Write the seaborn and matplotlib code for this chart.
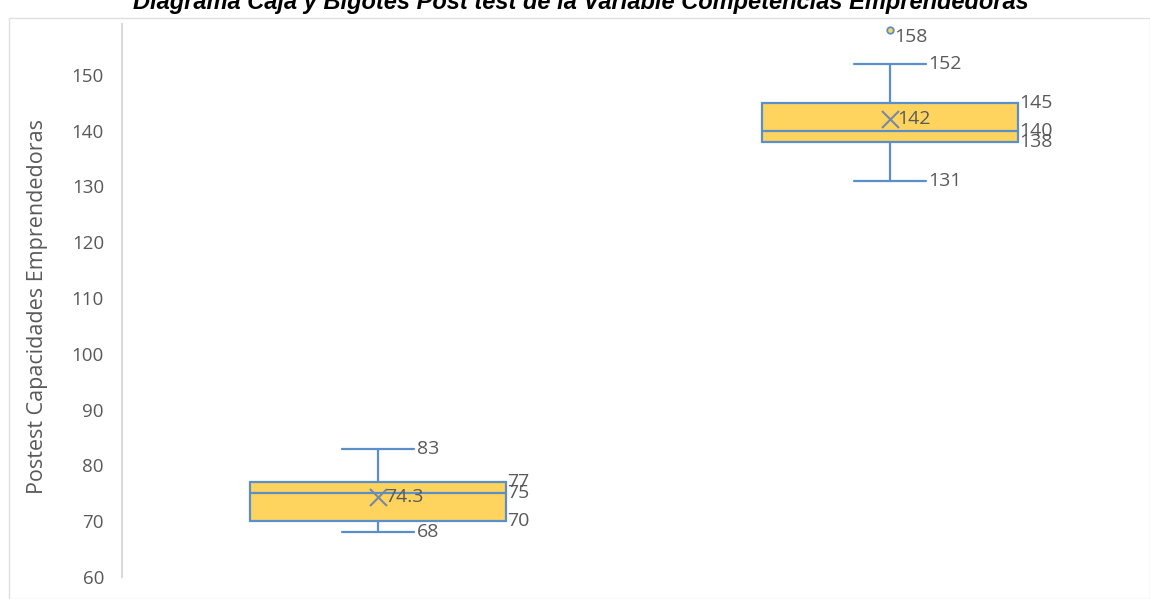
import matplotlib
matplotlib.use("Agg")
import matplotlib.pyplot as plt
import seaborn as sns
import pandas as pd
from matplotlib.patches import Rectangle

# ---- data ----
groups = ["Grupo 1", "Grupo 2"]
whisker_low = [68, 131]
q1 = [70, 138]
median = [75, 140]
q3 = [77, 145]
whisker_high = [83, 152]
means = [74.3, 142]
mean_labels = ["74.3", "142"]
outlier_group = [1]
outlier_value = [158]

title = "Diagrama Caja y Bigotes Post test de la Variable Competencias Emprendedoras"
ylabel = "Postest Capacidades Emprendedoras"
yticks = [60, 70, 80, 90, 100, 110, 120, 130, 140, 150]

sns.set_theme(style="white")
plt.rcParams["font.family"] = ["Open Sans", "DejaVu Sans"]

BLUE = "#5B8FC9"
GOLD = "#FFD45E"
TXT = "#595959"

W, H = 1150, 599
fig = plt.figure(figsize=(W / 100, H / 100), dpi=100)
fig.patch.set_facecolor("white")
ax = fig.add_axes([122 / W, (H - 577) / H, 1024 / W, (577 - 24) / H])

# chart frame
fig.patches.append(Rectangle((9 / W, 0), (W - 9) / W, (H - 18) / H, transform=fig.transFigure,
                             fill=False, edgecolor="#e0e0e0", linewidth=1))

stats = []
for i in range(len(groups)):
    stats.append(dict(label=groups[i], whislo=whisker_low[i], q1=q1[i], med=median[i],
                      q3=q3[i], whishi=whisker_high[i], fliers=[]))
positions = list(range(len(groups)))
ax.bxp(stats, positions=positions, widths=0.5, patch_artist=True, showfliers=False,
       capwidths=0.14,
       boxprops=dict(facecolor=GOLD, edgecolor=BLUE, linewidth=1.6),
       medianprops=dict(color=BLUE, linewidth=1.6),
       whiskerprops=dict(color=BLUE, linewidth=1.6),
       capprops=dict(color=BLUE, linewidth=1.6))

mean_df = pd.DataFrame({"x": positions, "y": means})
sns.scatterplot(data=mean_df, x="x", y="y", marker="x", s=150, color="#7489a6",
                linewidth=1.5, ax=ax, zorder=5)
out_df = pd.DataFrame({"x": outlier_group, "y": outlier_value})
sns.scatterplot(data=out_df, x="x", y="y", marker="o", s=22, color=GOLD,
                edgecolor=BLUE, linewidth=1.3, ax=ax, zorder=5)

fs = 14
def lab(x, y, s, dx, dy=0):
    ax.annotate(s, (x, y), xytext=(dx, dy), textcoords="offset points",
                ha="left", va="center", fontsize=fs, color=TXT, zorder=6)

for i in range(len(groups)):
    lab(i + 0.07, whisker_high[i], f"{whisker_high[i]}", 2)
    lab(i + 0.07, whisker_low[i], f"{whisker_low[i]}", 2)
    lab(i + 0.25, q3[i], f"{q3[i]}", 0.5)
    lab(i + 0.25, median[i], f"{median[i]}", 0.5)
    lab(i + 0.25, q1[i], f"{q1[i]}", 0.5)
    lab(i, means[i], mean_labels[i], 5)
for g, v in zip(outlier_group, outlier_value):
    lab(g, v, f"{v}", 3, -5)

ax.set_xlim(-0.5, 1.5)
ax.set_ylim(60, 159.1)
ax.set_yticks(yticks)
ax.set_yticklabels([str(t) for t in yticks], fontsize=13.5, color=TXT)
ax.set_xticks([])
ax.set_xlabel("")
ax.set_ylabel(ylabel, fontsize=15.5, color=TXT)
ax.yaxis.set_label_coords(-0.072, 0.49)
ax.tick_params(axis="y", length=0, pad=13)
for s in ["top", "right", "bottom"]:
    ax.spines[s].set_visible(False)
ax.spines["left"].set_color("#d9d9d9")
ax.spines["left"].set_linewidth(1.5)
ax.set_facecolor("white")

fig.text(0.505, 1 - 9 / H, title, ha="center", va="baseline", fontsize=17,
         fontweight="bold", fontstyle="italic", family=["Liberation Sans", "DejaVu Sans"],
         color="black")

fig.savefig("out.png", dpi=100, facecolor="white")
